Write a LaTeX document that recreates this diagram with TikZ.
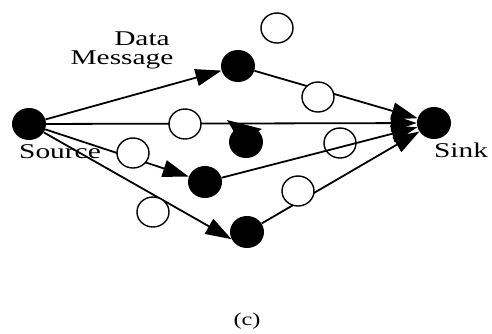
\documentclass[tikz,border=0pt]{standalone}
\usepackage{fontspec}
\usepackage{graphicx}
\setmainfont{Liberation Serif}
\usetikzlibrary{arrows.meta,shapes.geometric,backgrounds}
\newcommand\widetxt[1]{\scalebox{1.4}[1]{#1}}
\begin{document}
\begin{tikzpicture}[x=1pt,y=-1pt,
  bnode/.style={ellipse,fill=black,inner sep=0pt,minimum width=34pt,minimum height=32pt},
  wnode/.style={ellipse,draw=black,line width=1.4pt,fill=white,inner sep=0pt,minimum width=32pt,minimum height=30pt},
  onode/.style={wnode,fill=none},
  link/.style={line width=1.8pt},
  arr/.style={link,-{Triangle[length=26pt,width=17pt]}},
  lbl/.style={font=\fontsize{21}{24}\selectfont,inner sep=0pt,anchor=base},
  captionlbl/.style={font=\fontsize{18}{21}\selectfont,inner sep=0pt,anchor=base}]
\useasboundingbox (0,0) rectangle (492,333);
% nodes
\node[bnode] (src) at (29,124) {};
\node[bnode] (a) at (238,66) {};
\node[bnode] (b) at (246,142) {};
\node[bnode] (c) at (205,182) {};
\node[bnode] (d) at (247,232) {};
\node[bnode] (sink) at (434,123) {};
\node[wnode] (w1) at (277,28) {};
\node[wnode] (w2) at (318,97) {};
\node[onode] (w3) at (340,143) {};
\node[wnode] (w4) at (298,191) {};
\node[wnode] (w5) at (185,124) {};
\node[wnode] (w6) at (133,153) {};
\node[wnode] (w7) at (153,212) {};
% connectors
\begin{pgfonlayer}{background}
\draw[arr] (src) -- (a);
\draw[arr] (src) -- (sink);
\draw[arr] (src) -- (c);
\draw[arr] (src) -- (d.205);
\draw[arr] (a) -- (sink);
\draw[arr] (c) -- (sink);
\draw[arr] (d) -- (sink);
\fill (227,120) -- (262,129) -- (240,142) -- cycle;
\end{pgfonlayer}
% labels
\node[lbl] (tdata) at (142,45) {\widetxt{Data}};
\node[lbl] (tmsg) at (122,64) {\widetxt{Message}};
\node[lbl] (tsrc) at (60,158) {\widetxt{Source}};
\node[lbl] (tsink) at (461,157) {\widetxt{Sink}};
\node[captionlbl] (tc) at (247,325) {\scalebox{1.35}[1]{(c)}};
\end{tikzpicture}
\end{document}
